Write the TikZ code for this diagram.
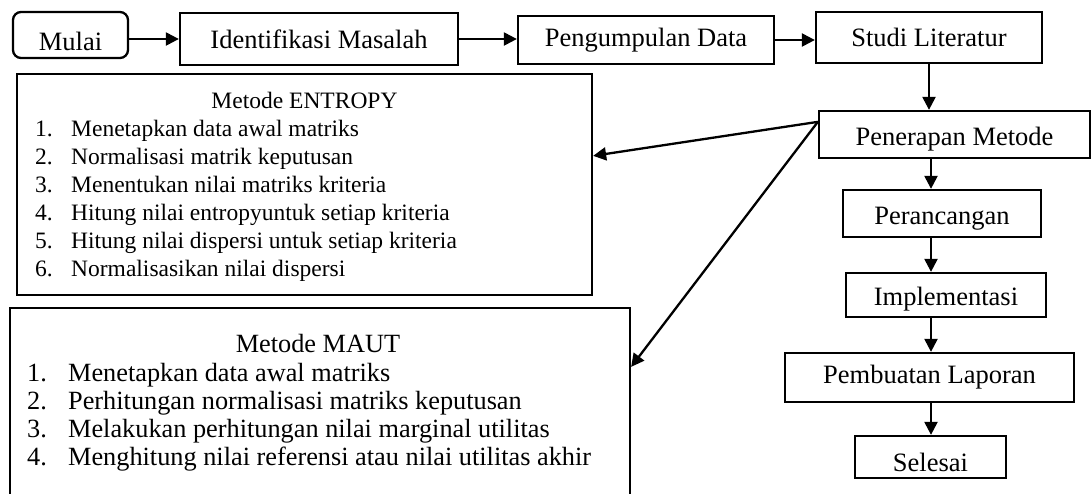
\documentclass[tikz,border=0pt]{standalone}
\usepackage{fontspec}
\setmainfont{Liberation Serif}
\usetikzlibrary{arrows.meta,calc}
\newcommand{\boxfont}{\fontsize{26.5}{30}\selectfont}
\newcommand{\entfont}{\fontsize{23.5}{28}\selectfont}
\newcommand{\mautfont}{\fontsize{26.3}{28}\selectfont}
\newcommand{\lowtext}[2]{\raisebox{-#1}[\height][\depth]{#2}}
\begin{document}
\begin{tikzpicture}[x=1pt,y=-1pt,
  box/.style={draw,line width=2.3pt,rectangle,inner sep=0pt,font=\boxfont},
  arr/.style={line width=2.3pt,-{Triangle[length=13pt,width=13pt]}},
  txt/.style={inner sep=0pt}
]
\clip (0,0) rectangle (1092,493);
\useasboundingbox (0,0) rectangle (1092,493);

% top row
\node[box,minimum width=115pt,minimum height=46pt,rounded corners=8pt] (mulai) at (70.5,35) {\lowtext{6pt}{Mulai}};
\node[box,minimum width=278pt,minimum height=52pt] (ident) at (319,39) {Identifikasi Masalah};
\node[box,minimum width=256pt,minimum height=48pt] (pengum) at (646,40) {Pengumpulan Data};
\node[box,minimum width=226pt,minimum height=51pt] (studi) at (929,37.5) {Studi Literatur};

% right column
\node[box,minimum width=271pt,minimum height=47pt] (pener) at (954.5,134.5) {\lowtext{5pt}{Penerapan Metode}};
\node[box,minimum width=198pt,minimum height=47pt] (peran) at (942,213.5) {\lowtext{5pt}{Perancangan}};
\node[box,minimum width=200pt,minimum height=44pt] (impl) at (946,295) {\lowtext{4pt}{Implementasi}};
\node[box,minimum width=289pt,minimum height=49pt] (lapor) at (929.5,377.5) {Pembuatan Laporan};
\node[box,minimum width=151pt,minimum height=42pt] (selesai) at (930.5,457) {\lowtext{5pt}{Selesai}};

% ENTROPY box
\node[box,minimum width=575pt,minimum height=221pt] (entropy) at (304.5,184.5) {};
\node[txt,font=\entfont,anchor=base] (etitle) at (304.5,108) {Metode ENTROPY};
\node[txt,font=\entfont,anchor=base west] (elist) at (35,136) {%
\begin{tabular}[t]{@{}p{36pt}@{}l@{}}
1. & Menetapkan data awal matriks\\
2. & Normalisasi matrik keputusan\\
3. & Menentukan nilai matriks kriteria\\
4. & Hitung nilai entropyuntuk setiap kriteria\\
5. & Hitung nilai dispersi untuk setiap kriteria\\
6. & Normalisasikan nilai dispersi
\end{tabular}};

% MAUT box
\node[box,minimum width=620pt,minimum height=195pt] (maut) at (320,405.5) {};
\node[txt,font=\mautfont,anchor=base] (mtitle) at (318,352) {Metode MAUT};
\node[txt,font=\mautfont,anchor=base west] (mlist) at (27,381) {%
\begin{tabular}[t]{@{}p{41pt}@{}l@{}}
1. & Menetapkan data awal matriks\\
2. & Perhitungan normalisasi matriks keputusan\\
3. & Melakukan perhitungan nilai marginal utilitas\\
4. & Menghitung nilai referensi atau nilai utilitas akhir
\end{tabular}};

% connectors
\coordinate (col) at (931,0);
\draw[arr] (ident.west -| mulai.east) -- (ident.west);
\draw[arr] (ident.east) -- (ident.east -| pengum.west);
\draw[arr] (pengum.east) -- (pengum.east -| studi.west);
\draw[arr] (studi.south) -- (studi.south |- pener.north);
\draw[arr] (pener.south -| col) -- (peran.north -| col);
\draw[arr] (peran.south -| col) -- (impl.north -| col);
\draw[arr] (impl.south -| col) -- (lapor.north -| col);
\draw[arr] (lapor.south -| col) -- (selesai.north -| col);

\coordinate (src) at ($(pener.north west)+(0,12)$);
\draw[arr] (src) -- ($(entropy.north east)+(0,83)$);
\draw[arr] (src) -- ($(maut.north east)+(0,60)$);
\end{tikzpicture}
\end{document}
